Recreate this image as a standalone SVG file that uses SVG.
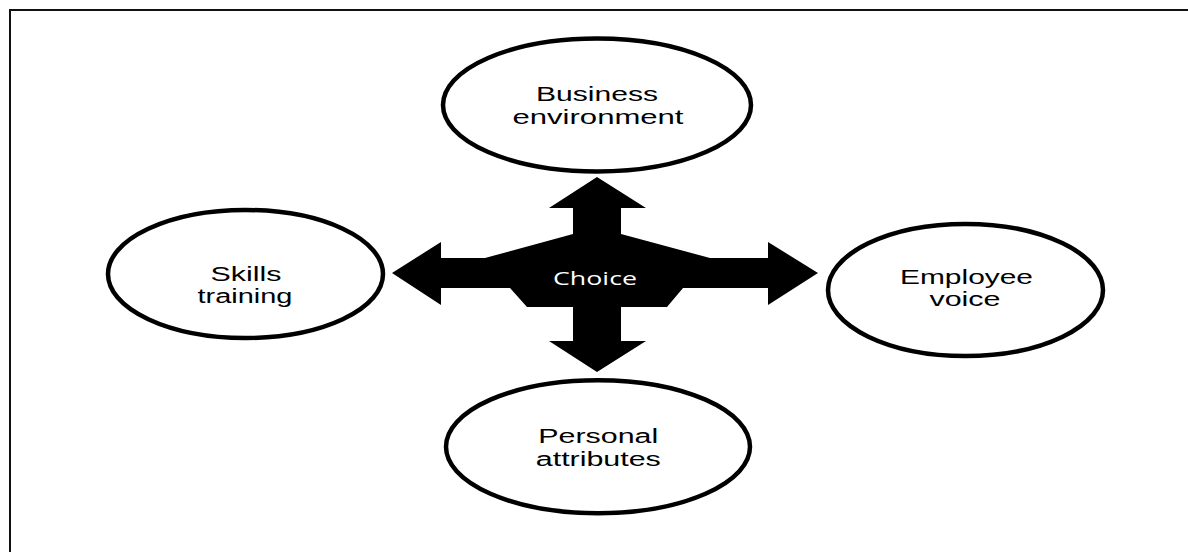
<svg xmlns="http://www.w3.org/2000/svg" width="1188" height="552" viewBox="0 0 1188 552">
<style>
.frame{fill:none;stroke:#111;stroke-width:2}
.node ellipse{fill:#fff;stroke:#000;stroke-width:4.5}
.lbl{font-family:"Liberation Sans",Arial,sans-serif;font-size:19.5px;fill:#000;text-anchor:middle}
.cross{fill:#000}
.choice{font-family:"Open Sans","DejaVu Sans",sans-serif;font-size:18.5px;fill:#fff;text-anchor:middle}
</style>
<rect width="1188" height="552" fill="#fff"/>
<path class="frame" d="M10,552 V10 H1188"/>
<g id="connectors">
<polygon class="cross" points="597,177 646,208 621,208 621,234 710,258 768,258 768,242 818,273 768,305 768,288 683,288 667,307 621,307 621,341 646,341 597,372 549,341 573,341 573,307 527,307 510,288 441,288 441,305 392,273 441,242 441,258 485,258 573,234 573,208 549,208"/>
</g>
<g id="choice">
<text class="choice" x="595" y="284.5" textLength="84" lengthAdjust="spacingAndGlyphs">Choice</text>
</g>
<g id="business" class="node">
<ellipse cx="597" cy="105" rx="154" ry="66.5"/>
<text class="lbl" x="597" y="101" textLength="122" lengthAdjust="spacingAndGlyphs">Business</text>
<text class="lbl" x="598" y="124" textLength="171" lengthAdjust="spacingAndGlyphs">environment</text>
</g>
<g id="skills" class="node">
<ellipse cx="245.5" cy="274" rx="137.5" ry="64"/>
<text class="lbl" x="246" y="281" textLength="71" lengthAdjust="spacingAndGlyphs">Skills</text>
<text class="lbl" x="245" y="303" textLength="95" lengthAdjust="spacingAndGlyphs">training</text>
</g>
<g id="employee" class="node">
<ellipse cx="965.5" cy="290" rx="137.5" ry="66"/>
<text class="lbl" x="966.5" y="283.5" textLength="133" lengthAdjust="spacingAndGlyphs">Employee</text>
<text class="lbl" x="965" y="306" textLength="71" lengthAdjust="spacingAndGlyphs">voice</text>
</g>
<g id="personal" class="node">
<ellipse cx="598" cy="446.7" rx="152" ry="66.5"/>
<text class="lbl" x="598.3" y="443.3" textLength="120" lengthAdjust="spacingAndGlyphs">Personal</text>
<text class="lbl" x="598.3" y="466" textLength="125" lengthAdjust="spacingAndGlyphs">attributes</text>
</g>
</svg>
